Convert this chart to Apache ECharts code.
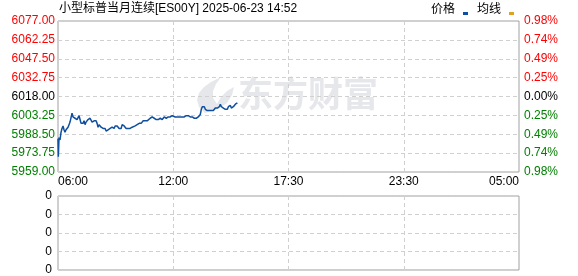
<!DOCTYPE html>
<html>
<head>
<meta charset="utf-8">
<script src="https://cdn.jsdelivr.net/npm/echarts@6/dist/echarts.min.js"></script>
<style>html,body{margin:0;padding:0;background:#fff}#c{width:578px;height:276px}</style>
</head>
<body>
<div id="c"></div>
<script>
var titleText = '小型标普当月连续[ES00Y] 2025-06-23 14:52';
var seriesNames = ['价格', '均线'];
var timeTicks = ['06:00', '12:00', '17:30', '23:30', '05:00'];
var prevClose = 6018;
var priceMin = 5959, priceMax = 6077, priceStep = 14.75;
var volTicks = ['0', '0', '0', '0', '0'];
// minutes since 06:00 (axis spans 4 equal sections of 345)
var priceMinutes = [0,1,2,3,6,9,12,15,18,21,24,27,30,33,36,39,42,45,48,51,54,57,60,63,66,69,72,75,78,81,84,87,90,93,96,99,102,105,108,111,114,117,120,123,126,129,132,135,138,141,144,147,150,156,159,162,165,168,171,174,177,180,183,186,189,192,195,198,201,204,207,210,216,219,222,225,231,237,243,246,249,255,261,264,267,270,276,279,282,285,288,291,294,297,300,303,306,312,315,318,321,324,330,336,339,342,345,351,354,360,366,372,378,384,387,390,396,402,408,414,420,426,429,432,435,438,441,444,447,450,453,456,459,462,465,468,471,474,477,480,483,486,489,492,495,498,501,504,507,510,513,516,519,522,525,528,531,534,537];
var priceValues = [5985,5971,5978,5986,5984,5990,5993,5995,5992,5990,5992,5991,5994,5996,5998,5999,6005,6002,6003,6001,6002,6000,6001,6003,6000,5997,5998,5997,5999,5996,5998,5998,6000,5999,6001,6000,5998,5997,5999,6000,5999,5997,5994,5996,5996,5994,5995,5993,5992,5993,5991,5992,5992,5993,5992,5994,5994,5993,5995,5994,5995,5994,5993,5994,5993,5996,5997,5995,5994,5993,5994,5993,5993,5994,5994,5995,5995,5996,5997,5998,5997,5999,5999,6000,5999,6000,6001,6000,6002,6003,6001,6000,6000,6001,6000,6001,6001,6000,6001,6002,6002,6001,6002,6002,6003,6003,6002,6002,6003,6002,6002,6002,6002,6003,6004,6003,6002,6002,6001,6001,6002,6004,6008,6010,6011,6010,6008,6008,6007,6008,6007,6008,6007,6008,6007,6008,6009,6008,6009,6008,6010,6012,6010,6011,6009,6010,6008,6009,6008,6010,6009,6011,6009,6010,6010,6011,6012,6012,6013];
var avgValues = [];

var FONT = '"Liberation Sans", Arial, "Noto Sans CJK SC", sans-serif';
var RED = '#ff0000', GREEN = '#008000', BLACK = '#000000';
function valColor(v) {
  v = Number(v);
  if (Math.abs(v - prevClose) < 0.001) return BLACK;
  return v > prevClose ? RED : GREEN;
}
var priceData = priceMinutes.map(function (m, i) { return [m, priceValues[i]]; });

var chart = echarts.init(document.getElementById('c'), null, { renderer: 'canvas' });
var totalMin = 1380, secStep = totalMin / (timeTicks.length - 1);
chart.setOption({
  animation: false,
  backgroundColor: '#fff',
  textStyle: { fontFamily: FONT },
  title: {
    text: titleText, left: 59, top: 3, padding: 0,
    textStyle: { fontSize: 12, fontWeight: 'normal', color: '#000', fontFamily: FONT }
  },
  legend: {
    data: seriesNames, left: 431, top: 2, padding: 0, align: 'right', itemGap: 9,
    itemWidth: 8, itemHeight: 14,
    textStyle: { fontSize: 12, color: '#000', fontFamily: '"Noto Sans CJK SC", sans-serif' },
    icon: 'path://M0,0L8,0L8,0.01L0,0.01Z M3,10L8,10L8,13L3,13Z'
  },
  graphic: [
    { type: 'polygon', z: -1, silent: true,
      shape: { points: [[205,113],[199,107],[197,100],[199,93],[204,87],[211,82],[221,77],[216,84],[213,91],[213,98],[217,104],[221,97],[227,91],[234,87],[232,95],[227,103],[218,109]] },
      style: { fill: '#e6e7eb' } },
    { type: 'text', z: -1, silent: true, left: 238, top: 76,
      style: { text: '东方财富', font: 'bold 35px "Noto Sans CJK SC"', fill: '#e6e7eb' } }
  ],
  grid: [
    { left: 58, top: 21, width: 461, height: 151, show: true, borderColor: '#a0a0a0', borderWidth: 1, backgroundColor: 'transparent' },
    { left: 58, top: 196, width: 461, height: 74, show: true, borderColor: '#a0a0a0', borderWidth: 1, backgroundColor: 'transparent' }
  ],
  xAxis: [
    { type: 'value', gridIndex: 0, min: 0, max: totalMin, interval: secStep,
      axisLine: { show: false }, axisTick: { show: false },
      splitLine: { show: true, lineStyle: { color: '#d0d0d0', type: [4, 3] } },
      axisLabel: { margin: 4, fontSize: 12, color: '#000', fontFamily: FONT,
        alignMinLabel: 'left', alignMaxLabel: 'right', showMinLabel: true, showMaxLabel: true,
        formatter: function (v) { return timeTicks[Math.round(v / secStep)]; } } },
    { type: 'value', gridIndex: 1, min: 0, max: totalMin, interval: secStep,
      axisLine: { show: false }, axisTick: { show: false }, axisLabel: { show: false },
      splitLine: { show: true, lineStyle: { color: '#d0d0d0', type: [4, 3] } } }
  ],
  yAxis: [
    { type: 'value', gridIndex: 0, min: priceMin, max: priceMax, interval: priceStep, position: 'left',
      axisLine: { show: false }, axisTick: { show: false },
      splitLine: { show: true, lineStyle: { color: '#d0d0d0', type: [4, 3] } },
      axisLabel: { margin: 3, fontSize: 12, fontFamily: FONT, showMinLabel: true, showMaxLabel: true,
        color: function (v) { return valColor(v); },
        formatter: function (v) { return Number(v).toFixed(2); } } },
    { type: 'value', gridIndex: 0, min: priceMin, max: priceMax, interval: priceStep, position: 'right',
      axisLine: { show: false }, axisTick: { show: false }, splitLine: { show: false },
      axisLabel: { margin: 5, fontSize: 12, fontFamily: FONT, showMinLabel: true, showMaxLabel: true,
        color: function (v) { return valColor(v); },
        formatter: function (v) { return Math.abs((v - prevClose) / prevClose * 100).toFixed(2) + '%'; } } },
    { type: 'value', gridIndex: 1, min: 0, max: volTicks.length - 1, interval: 1, position: 'left',
      axisLine: { show: false }, axisTick: { show: false },
      splitLine: { show: true, lineStyle: { color: '#d0d0d0', type: [4, 3] } },
      axisLabel: { margin: 6, fontSize: 12, color: '#000', fontFamily: FONT, showMinLabel: true, showMaxLabel: true,
        formatter: function (v) { return volTicks[Math.round(v)]; } } }
  ],
  series: [
    { name: seriesNames[0], type: 'line', xAxisIndex: 0, yAxisIndex: 0, data: priceData,
      showSymbol: false, symbol: 'none', color: '#0f4fa0',
      lineStyle: { width: 1.5, color: '#0f4fa0' } },
    { name: seriesNames[1], type: 'line', xAxisIndex: 0, yAxisIndex: 0, data: avgValues,
      showSymbol: false, symbol: 'none', color: '#e0a020',
      lineStyle: { width: 1, color: '#e0a020' } }
  ]
});
</script>
</body>
</html>
